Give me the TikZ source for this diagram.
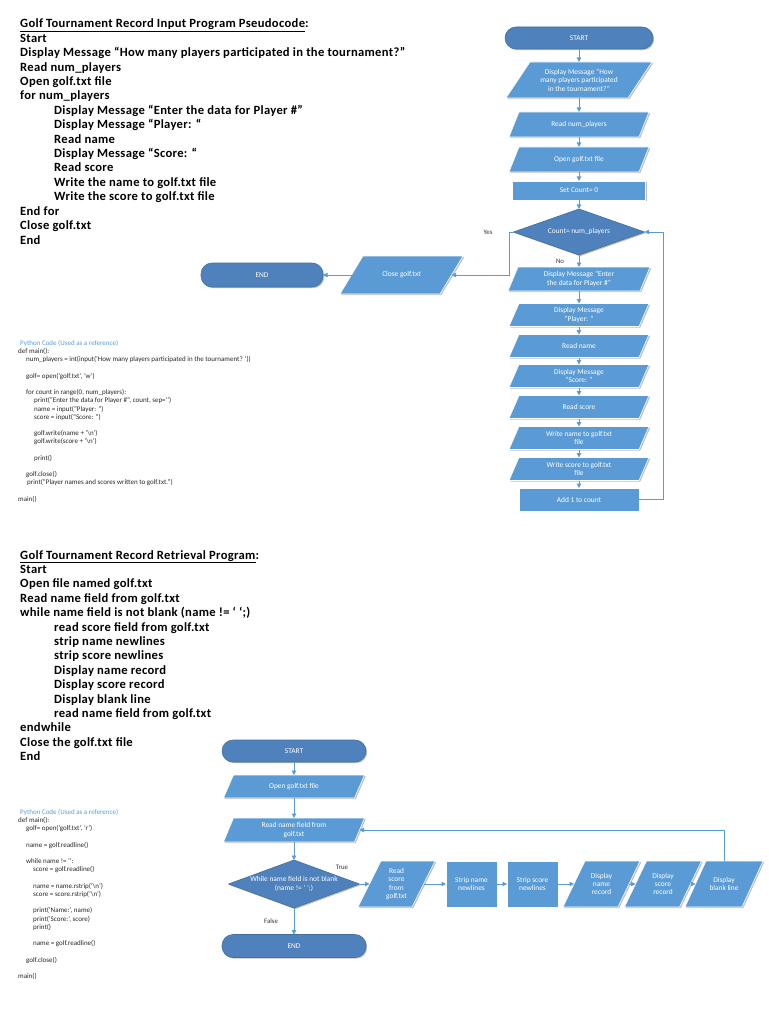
\documentclass[tikz,border=0pt]{standalone}
\usepackage{fontspec}
\setmainfont{Carlito}
\newfontfamily\pseudofont{Carlito}[LetterSpace=2.5]
\usetikzlibrary{shapes.geometric,arrows.meta,shadows}
\definecolor{boxblue}{HTML}{5B9BD5}
\definecolor{darkblue}{HTML}{4F81BD}
\definecolor{darkedge}{HTML}{41719C}
\definecolor{lineblue}{HTML}{5B9BD5}
\definecolor{codeblue}{HTML}{5B9BD5}
\pgfdeclarelayer{bg}
\pgfsetlayers{bg,main}
\tikzset{
  shtext/.style={font=\fontsize{7.4}{8.4}\selectfont, text=white, align=center, inner sep=0pt, outer sep=0pt},
  shad/.style={drop shadow={shadow xshift=1.2pt, shadow yshift=-1.2pt, opacity=0.25, fill=black}},
  term/.style={shtext, shape=rectangle, draw=darkedge, fill=darkblue, line width=0.6pt, rounded corners=11pt, shad},
  proc/.style={shtext, shape=rectangle, draw=white, fill=boxblue, line width=0.6pt, shad},
  io/.style={shtext, shape=rectangle},
  iofill/.style={fill=boxblue, draw=white, line width=0.6pt, shad},
  decide/.style={diamond, inner sep=0pt, outer sep=0pt, aspect=2.85, draw=darkedge, fill=darkblue, line width=0.6pt, shad},
  conn/.style={draw=lineblue, line width=0.9pt, -{Triangle[length=4.5pt,width=4.5pt]}},
  lbl/.style={font=\fontsize{6.8}{8}\selectfont, text=black!80, inner sep=0pt},
  pseudo/.style={font=\pseudofont\fontsize{12.6}{14.4}\selectfont\bfseries, anchor=base west, inner sep=0pt},
  code/.style={font=\fontsize{7}{8}\selectfont, anchor=base west, inner sep=0pt, text=black!85},
}
\newcommand\pgram[2]{\begin{pgfonlayer}{bg}\path[iofill] ([xshift=-#2pt]#1.south west) -- ([xshift=#2pt]#1.north west) -- ([xshift=#2pt]#1.north east) -- ([xshift=-#2pt]#1.south east) -- cycle;\end{pgfonlayer}}
\newcommand\pl[4]{\node[pseudo] (#1) at (#2,#3) {#4};}
\newcommand\cl[4]{\node[code] (#1) at (#2,#3) {#4};}
\begin{document}
\begin{tikzpicture}[x=1pt,y=-1pt]
\useasboundingbox (0,0) rectangle (768,1024);

% ---------- top pseudocode ----------
\pl{pa0}{20}{28.0}{\underline{Golf Tournament Record Input Program Pseudocode}:}
\pl{pa1}{20}{42.4}{Start}
\pl{pa2}{20}{56.8}{Display Message “How many players participated in the tournament?”}
\pl{pa3}{20}{71.2}{Read num\_players}
\pl{pa4}{20}{85.6}{Open golf.txt file}
\pl{pa5}{20}{100.0}{for num\_players}
\pl{pa6}{54}{114.4}{Display Message “Enter the data for Player \#”}
\pl{pa7}{54}{128.8}{Display Message “Player: “}
\pl{pa8}{54}{143.2}{Read name}
\pl{pa9}{54}{157.6}{Display Message “Score: “}
\pl{pa10}{54}{172.0}{Read score}
\pl{pa11}{54}{186.4}{Write the name to golf.txt file}
\pl{pa12}{54}{200.8}{Write the score to golf.txt file}
\pl{pa13}{20}{215.2}{End for}
\pl{pa14}{20}{229.6}{Close golf.txt}
\pl{pa15}{20}{244.0}{End}

% ---------- top python code ----------
\node[code, text=codeblue] (ca0) at (20,345.5) {Python Code (Used as a reference)};
\cl{ca1}{18}{353.7}{def main():}
\cl{ca2}{26}{361.9}{num\_players = int(input('How many players participated in the tournament? '))}
\cl{ca4}{26}{378.3}{golf= open('golf.txt', 'w')}
\cl{ca6}{26}{394.7}{for count in range(0, num\_players):}
\cl{ca7}{34}{402.9}{print("Enter the data for Player \#", count, sep='{}')}
\cl{ca8}{34}{411.1}{name = input("Player: ")}
\cl{ca9}{34}{419.3}{score = input("Score: ")}
\cl{ca11}{34}{435.7}{golf.write(name + '\textbackslash n')}
\cl{ca12}{34}{443.9}{golf.write(score + '\textbackslash n')}
\cl{ca14}{34}{460.3}{print()}
\cl{ca16}{26}{476.7}{golf.close()}
\cl{ca17}{27}{484.9}{print("Player names and scores written to golf.txt.")}
\cl{ca19}{18}{501.3}{main()}

% ---------- top flowchart ----------
\node[term, minimum width=148pt, minimum height=22pt] (s1) at (579,38) {START};
\node[io, minimum width=122pt, minimum height=36pt] (d1) at (579,80) {Display Message “How\\many players participated\\in the tournament?”};
\pgram{d1}{12}
\node[io, minimum width=130pt, minimum height=25pt] (rn) at (579,124.5) {Read num\_players};
\pgram{rn}{5}
\node[io, minimum width=130pt, minimum height=25pt] (og) at (579,159.5) {Open golf.txt file};
\pgram{og}{5}
\node[proc, minimum width=133pt, minimum height=19pt] (sc) at (579,190.5) {Set Count= 0};
\node[decide, minimum width=131pt, minimum height=46pt] (dc) at (579,232) {};
\node[shtext] (dct) at (dc.center) {Count= num\_players};
\node[io, minimum width=132pt, minimum height=24pt] (de) at (579,279) {Display Message “Enter\\the data for Player \#”};
\pgram{de}{5}
\node[io, minimum width=130pt, minimum height=23pt] (dp) at (579,315) {Display Message\\“Player: ”};
\pgram{dp}{5}
\node[io, minimum width=130pt, minimum height=23pt] (rnm) at (579,346) {Read name};
\pgram{rnm}{5}
\node[io, minimum width=130pt, minimum height=23pt] (ds) at (579,376) {Display Message\\“Score: ”};
\pgram{ds}{5}
\node[io, minimum width=130pt, minimum height=23pt] (rs) at (579,407) {Read score};
\pgram{rs}{5}
\node[io, minimum width=130pt, minimum height=23pt] (wn) at (579,438) {Write name to golf.txt\\file};
\pgram{wn}{5}
\node[io, minimum width=130pt, minimum height=23pt] (ws) at (579,469) {Write score to golf.txt\\file};
\pgram{ws}{5}
\node[proc, minimum width=120pt, minimum height=23pt] (ad) at (579,499.5) {Add 1 to count};
\node[io, minimum width=100pt, minimum height=38pt] (cg) at (401.5,275) {Close golf.txt};
\pgram{cg}{11.5}
\node[term, minimum width=122pt, minimum height=24pt] (e1) at (262,275) {END};

\node[lbl] (yes) at (488,232) {Yes};
\node[lbl] (no) at (560,261) {No};

\draw[conn] (s1) -- (d1);
\draw[conn] (d1) -- (rn);
\draw[conn] (rn) -- (og);
\draw[conn] (og) -- (sc);
\draw[conn] (sc) -- (dc);
\draw[conn] (dc) -- (de);
\draw[conn] (de) -- (dp);
\draw[conn] (dp) -- (rnm);
\draw[conn] (rnm) -- (ds);
\draw[conn] (ds) -- (rs);
\draw[conn] (rs) -- (wn);
\draw[conn] (wn) -- (ws);
\draw[conn] (ws) -- (ad);
\draw[conn] (dc.west) -- ++(-4,0) |- (cg.east);
\draw[conn] (cg.west) -- (e1.east);
\draw[conn] (ad.east) -- ++(24,0) |- (dc.east);

% ---------- bottom pseudocode ----------
\pl{pb0}{20}{559.0}{\underline{Golf Tournament Record Retrieval Program}:}
\pl{pb1}{20}{573.4}{Start}
\pl{pb2}{20}{587.8}{Open file named golf.txt}
\pl{pb3}{20}{602.2}{Read name field from golf.txt}
\pl{pb4}{20}{616.6}{while name field is not blank (name != ‘ ‘;)}
\pl{pb5}{54}{631.0}{read score field from golf.txt}
\pl{pb6}{54}{645.4}{strip name newlines}
\pl{pb7}{54}{659.8}{strip score newlines}
\pl{pb8}{54}{674.2}{Display name record}
\pl{pb9}{54}{688.6}{Display score record}
\pl{pb10}{54}{703.0}{Display blank line}
\pl{pb11}{54}{717.4}{read name field from golf.txt}
\pl{pb12}{20}{731.8}{endwhile}
\pl{pb13}{20}{746.2}{Close the golf.txt file}
\pl{pb14}{20}{760.6}{End}

% ---------- bottom python code ----------
\node[code, text=codeblue] (cb0) at (20,814.5) {Python Code (Used as a reference)};
\cl{cb1}{18}{822.7}{def main():}
\cl{cb2}{26}{830.9}{golf= open('golf.txt', 'r')}
\cl{cb4}{26}{847.3}{name = golf.readline()}
\cl{cb6}{26}{863.7}{while name != '{}':}
\cl{cb7}{33}{871.9}{score = golf.readline()}
\cl{cb9}{33}{888.3}{name = name.rstrip('\textbackslash n')}
\cl{cb10}{33}{896.5}{score = score.rstrip('\textbackslash n')}
\cl{cb12}{33}{912.9}{print('Name:', name)}
\cl{cb13}{33}{921.1}{print('Score:', score)}
\cl{cb14}{33}{929.3}{print()}
\cl{cb16}{33}{945.7}{name = golf.readline()}
\cl{cb18}{26}{962.1}{golf.close()}
\cl{cb20}{18}{978.5}{main()}

% ---------- bottom flowchart ----------
\node[term, minimum width=144pt, minimum height=22pt] (s2) at (294,751) {START};
\node[io, minimum width=131pt, minimum height=23pt] (o2) at (294,786.5) {Open golf.txt file};
\pgram{o2}{5}
\node[io, minimum width=131pt, minimum height=24pt] (r2) at (294,830) {Read name field from\\golf.txt};
\pgram{r2}{5}
\node[decide, minimum width=131pt, minimum height=48pt] (w2) at (294,884) {};
\node[shtext] (w2t) at (w2.center) {While name field is not blank\\(name != ‘ ’;)};
\node[term, minimum width=144pt, minimum height=23pt] (e2) at (294,946) {END};
\node[io, minimum width=54pt, minimum height=46pt] (rs2) at (396.5,884) {Read\\score\\from\\golf.txt};
\pgram{rs2}{11.5}
\node[proc, minimum width=51pt, minimum height=46pt] (sn) at (471.5,884) {Strip name\\newlines};
\node[proc, minimum width=51pt, minimum height=46pt] (ss) at (532.5,884) {Strip score\\newlines};
\node[io, minimum width=55pt, minimum height=46pt] (dn) at (601.5,884) {Display\\name\\record};
\pgram{dn}{11}
\node[io, minimum width=55pt, minimum height=46pt] (dsr) at (663,884) {Display\\score\\record};
\pgram{dsr}{11}
\node[io, minimum width=57pt, minimum height=46pt] (db) at (724,884) {Display\\blank line};
\pgram{db}{10.5}

\node[lbl] (tru) at (342,867) {True};
\node[lbl] (fal) at (271,921) {False};

\draw[conn] (s2) -- (o2);
\draw[conn] (o2) -- (r2);
\draw[conn] (r2) -- (w2);
\draw[conn] (w2) -- (e2);
\draw[conn] (w2.east) -- (rs2.west);
\draw[conn] (rs2.east) -- (sn.west);
\draw[conn] (sn.east) -- (ss.west);
\draw[conn] (ss.east) -- (dn.west);
\draw[conn] (dn.east) -- (dsr.west);
\draw[conn] (dsr.east) -- (db.west);
\draw[conn] (db.north) |- (r2.east);
\end{tikzpicture}
\end{document}
